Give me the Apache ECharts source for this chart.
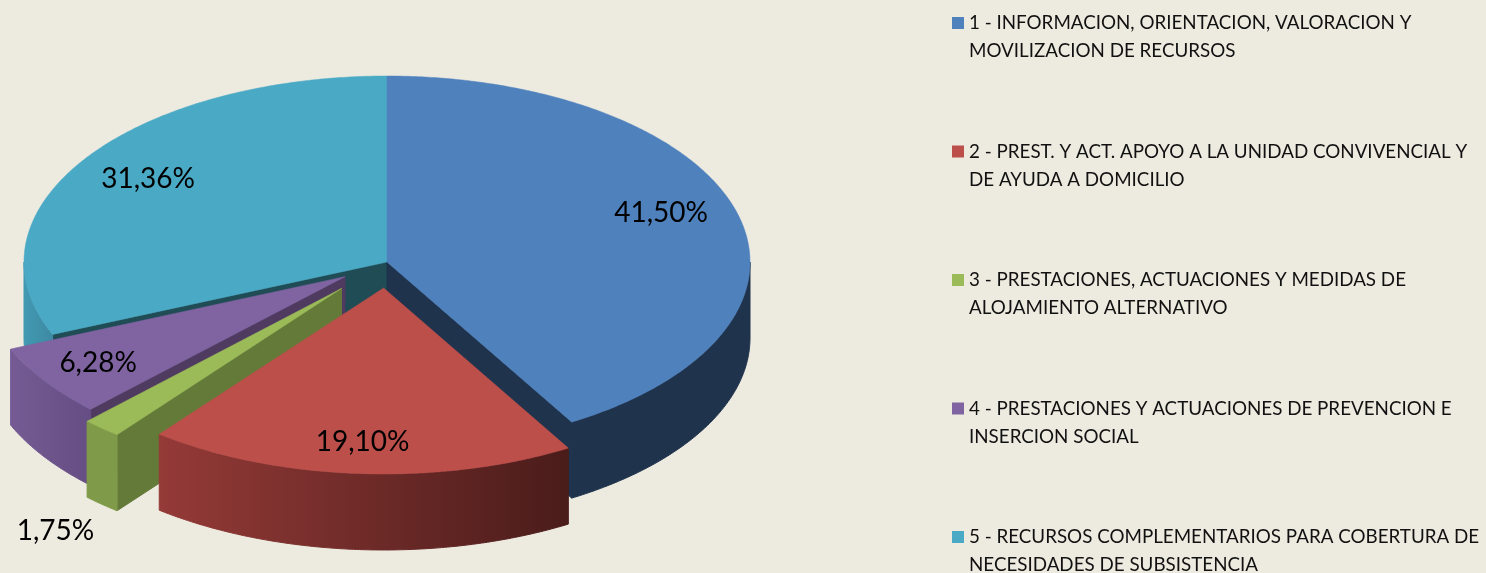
<!DOCTYPE html>
<html>
<head>
<meta charset="utf-8">
<style>html,body{margin:0;padding:0;background:#edebe0;overflow:hidden}#chart{width:1486px;height:573px}</style>
<script src="https://cdn.jsdelivr.net/npm/echarts@6/dist/echarts.min.js"></script>
</head>
<body>
<div id="chart"></div>
<script>
// ---- data ----
const categories = [
  '1 - INFORMACION, ORIENTACION, VALORACION Y\nMOVILIZACION DE RECURSOS',
  '2 - PREST. Y ACT. APOYO A LA UNIDAD CONVIVENCIAL Y\nDE AYUDA A DOMICILIO',
  '3 - PRESTACIONES, ACTUACIONES Y MEDIDAS DE\nALOJAMIENTO ALTERNATIVO',
  '4 - PRESTACIONES Y ACTUACIONES DE PREVENCION E\nINSERCION SOCIAL',
  '5 - RECURSOS COMPLEMENTARIOS PARA COBERTURA DE\nNECESIDADES DE SUBSISTENCIA'
];
const shares = [41.50, 19.10, 1.75, 6.28, 31.36];

// ---- styles ----
const topColors  = ['#4f81bd', '#bd4f4b', '#9bbb59', '#8064a2', '#4aa9c4'];
const cutColors  = ['#1f334d', '#4b1e1c', '#647a38', '#4f3b60', '#1f4c55'];
const wallFrom   = ['#1f334d', '#943a37', '#7f9a48', '#755b93', '#4299b2'];
const wallTo     = ['#1f334d', '#4a1c1a', '#7f9a48', '#654e84', '#3d8aa2'];
const explode    = [0, 0.14, 0.19, 0.14, 0];
const labelPlace = [[0.755, -0.269], [-0.058, 0.823], [-0.788, 1.296], [-0.680, 0.457], [-0.658, -0.452]];
const paintOrder = [4, 0, 3, 2, 1];

const PIE = { cx: 387, cy: 262, rx: 363, ry: 186, depth: 76 };
const FONT = 'Lato';

const total = shares.reduce((a, b) => a + b, 0);
const rad = d => d * Math.PI / 180;

function renderSlice(index) {
  return function (params, api) {
    const before = shares.slice(0, index).reduce((a, b) => a + b, 0);
    const value = api.value(0);
    const a0 = before / total * 360;
    const a1 = (before + value) / total * 360;
    const mid = rad((a0 + a1) / 2);
    const ox = PIE.cx + PIE.rx * explode[index] * Math.sin(mid);
    const oy = PIE.cy - PIE.ry * explode[index] * Math.cos(mid);
    const at = (deg, drop) => [
      ox + PIE.rx * Math.sin(rad(deg)),
      oy - PIE.ry * Math.cos(rad(deg)) + (drop || 0)
    ];
    const arc = (from, to, drop) => {
      const n = Math.max(2, Math.ceil(Math.abs(to - from) * 2));
      const pts = [];
      for (let i = 0; i <= n; i++) pts.push(at(from + (to - from) * i / n, drop));
      return pts;
    };
    const children = [];
    const poly = (points, fill, lineWidth) => children.push({
      type: 'polygon', shape: { points }, style: { fill, stroke: fill, lineWidth }, silent: true
    });
    const cut = deg => {
      const p = at(deg), q = at(deg, PIE.depth);
      poly([[ox, oy], p, q, [ox, oy + PIE.depth]], cutColors[index], 1);
    };
    // radial cut faces that look towards the viewer
    if (a0 > 180) cut(a0);
    if (a1 < 180) cut(a1);
    // outer rim: only the front half of the ellipse shows
    const f = Math.max(a0, 90), t = Math.min(a1, 270);
    if (t > f) {
      const xs = arc(f, t).map(p => p[0]);
      const xMax = Math.max.apply(null, xs), xMin = Math.min.apply(null, xs);
      const fill = new echarts.graphic.LinearGradient(xMin, 0, xMax, 0, [
        { offset: 0, color: wallFrom[index] }, { offset: 1, color: wallTo[index] }
      ], true);
      poly(arc(f, t).concat(arc(t, f, PIE.depth)), fill, 1);
    }
    // top face
    poly([[ox, oy]].concat(arc(a0, a1)), topColors[index], 0.5);
    // value label
    children.push({
      type: 'text', silent: true, z2: 10,
      x: ox + labelPlace[index][0] * PIE.rx,
      y: oy + labelPlace[index][1] * PIE.ry + 1,
      style: {
        text: value.toFixed(2).replace('.', ',') + '%',
        fill: '#000', font: '28px ' + FONT, align: 'center', verticalAlign: 'middle'
      }
    });
    return { type: 'group', children };
  };
}

const chart = echarts.init(document.getElementById('chart'), null, { renderer: 'canvas' });
chart.setOption({
  animation: false,
  backgroundColor: '#edebe0',
  tooltip: { show: false },
  legend: {
    orient: 'vertical',
    left: 952,
    top: -19,
    height: 800,
    padding: 0,
    itemWidth: 12,
    itemHeight: 12,
    itemGap: 44.5,
    selectedMode: false,
    icon: 'rect',
    data: categories.map(name => ({ name })),
    formatter: name => '\n' + name,
    textStyle: { fontFamily: FONT, fontSize: 18.8, lineHeight: 28, color: '#111' }
  },
  series: paintOrder.map(i => ({
    type: 'custom',
    name: categories[i],
    coordinateSystem: 'none',
    itemStyle: { color: topColors[i] },
    data: [[shares[i]]],
    renderItem: renderSlice(i)
  }))
});
</script>
</body>
</html>
